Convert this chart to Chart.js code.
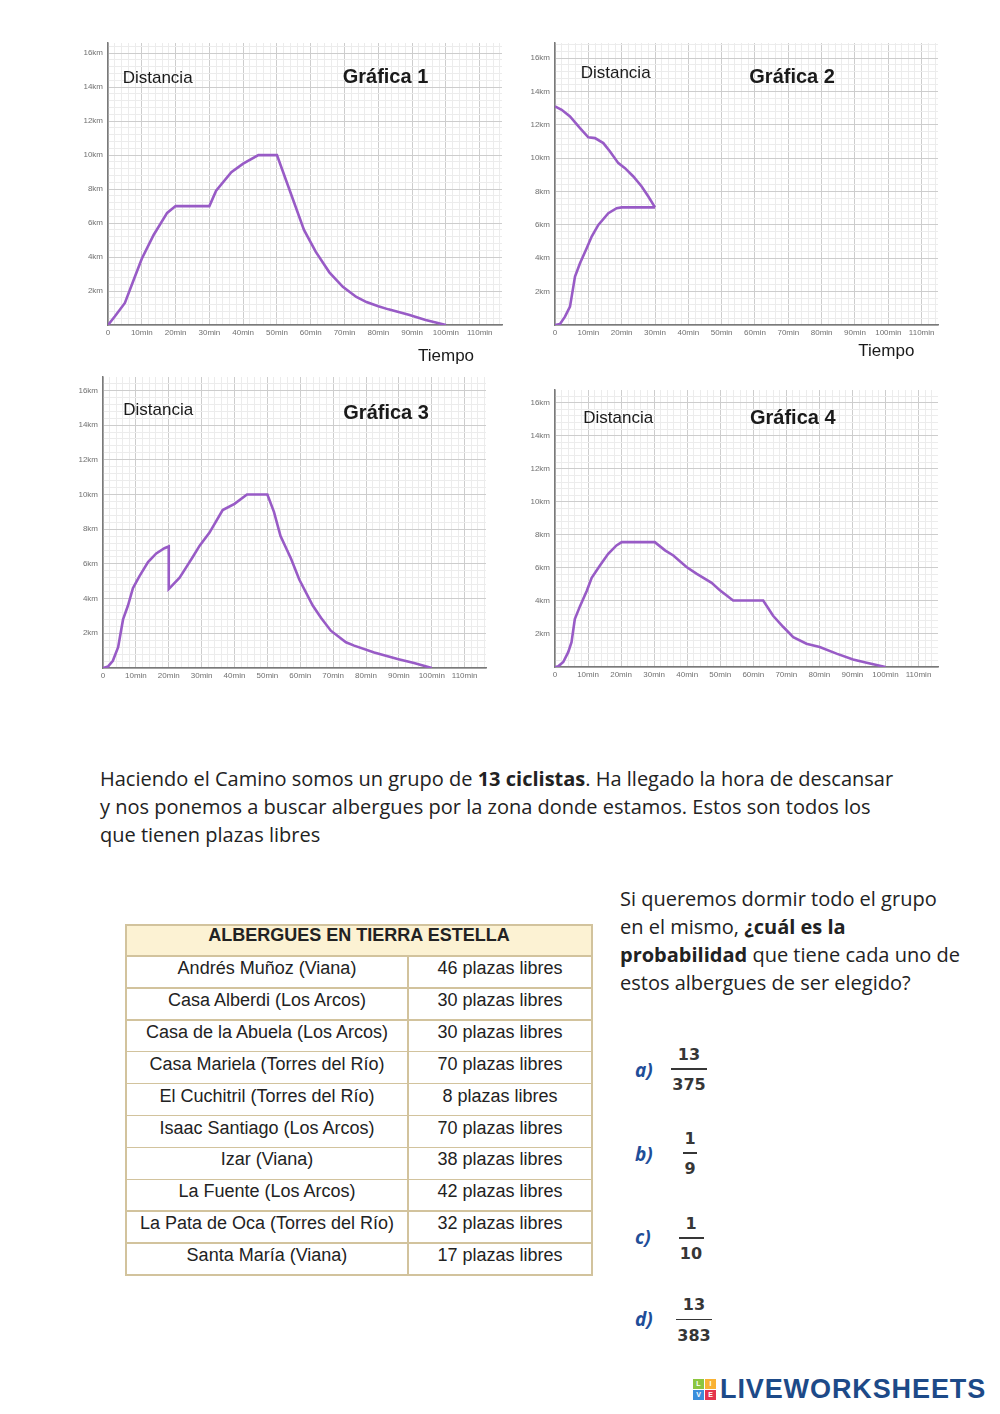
<!DOCTYPE html>
<html><head><meta charset="utf-8">
<script src="https://cdn.jsdelivr.net/npm/chart.js@4.4.1/dist/chart.umd.min.js"></script>
<style>
html,body{margin:0;padding:0;background:#fff;}
#page{position:relative;width:1000px;height:1414px;overflow:hidden;background:#fff;font-family:"Liberation Sans",Arial,sans-serif;}
canvas.g{position:absolute;z-index:1;}
.lbl{position:absolute;white-space:nowrap;color:#1a1a1a;font-family:"Liberation Sans",Arial,sans-serif;z-index:2;}
.dist{font-size:17px;line-height:20px;}
.gtitle{font-size:20px;font-weight:bold;line-height:24px;}
.txt{position:absolute;font-family:"Open Sans",sans-serif;font-size:20px;line-height:28px;color:#222;white-space:nowrap;}
.txt b{font-weight:700;}
.cell{position:absolute;text-align:center;font-family:"Liberation Sans",Arial,sans-serif;font-size:18px;line-height:24px;color:#222;white-space:nowrap;}
.hline{position:absolute;background:#d2c39d;}
.alabel{position:absolute;font-family:"Open Sans",sans-serif;font-style:italic;font-weight:700;font-size:19px;line-height:24px;color:#1f4e99;}
.fnum{position:absolute;font-family:"DejaVu Sans",sans-serif;font-weight:bold;font-size:16px;line-height:16px;color:#363636;transform:translateX(-50%);white-space:nowrap;}
.fbar{position:absolute;height:1.6px;background:#363636;}
.sq{position:absolute;width:11px;height:10px;color:#fff;font:bold 7px/10px "Liberation Sans",Arial,sans-serif;text-align:center;}
</style>
</head>
<body>
<div id="page"></div>
<script>
// ---------- DATA ----------
// Gráfica 1
const g1Minutes = [0, 2, 5, 7.5, 10, 13.5, 17.5, 20, 30, 32, 36.5, 40, 44.5, 50, 54, 58, 61.5, 65.5, 69.5, 73.5, 76.5, 80, 83, 89, 94, 100];
const g1Km      = [0, 0.5, 1.3, 2.6, 3.9, 5.3, 6.6, 7, 7, 7.9, 9, 9.5, 10, 10, 7.8, 5.6, 4.3, 3.1, 2.25, 1.65, 1.35, 1.1, 0.92, 0.6, 0.3, 0];
// Gráfica 2 (two branches)
const g2UpMinutes   = [0, 1.5, 3, 4.5, 5.5, 6, 7.5, 9.5, 11, 13, 16, 18.5, 20, 30];
const g2UpKm        = [0, 0.06, 0.5, 1.1, 2.3, 2.9, 3.7, 4.6, 5.3, 6.0, 6.7, 7.0, 7.05, 7.05];
const g2DownMinutes = [0, 2, 4.5, 7.5, 10, 12, 14.5, 16.5, 19, 21, 23.5, 26, 28, 30];
const g2DownKm      = [13.1, 12.9, 12.5, 11.8, 11.25, 11.2, 10.9, 10.4, 9.7, 9.4, 8.9, 8.3, 7.7, 7.05];
// Gráfica 3
const g3Minutes = [0, 1.5, 3, 4.6, 6.1, 7.6, 9.1, 11.1, 13.7, 16.2, 18.7, 20, 20, 23.3, 25.3, 27.3, 29.4, 32.4, 36.4, 40, 43.8, 50, 52, 54, 57.2, 59.7, 63.8, 66.3, 69.3, 73.9, 76.4, 82.5, 89.6, 94.6, 100];
const g3Km      = [0, 0.08, 0.42, 1.2, 2.8, 3.6, 4.6, 5.3, 6.1, 6.6, 6.9, 7, 4.55, 5.2, 5.8, 6.4, 7.05, 7.8, 9.1, 9.46, 10, 10, 9, 7.6, 6.3, 5.1, 3.6, 2.9, 2.15, 1.48, 1.29, 0.9, 0.52, 0.29, 0];
// Gráfica 4
const g4Minutes = [0, 1, 2.5, 4, 5, 6, 7.6, 9.6, 11.1, 13.6, 16.1, 18.6, 20.2, 30.2, 33.3, 35.8, 39.8, 42.8, 47.4, 49.9, 53.9, 63, 66, 69.1, 72.1, 76.1, 80.1, 85.2, 90.2, 94.3, 100];
const g4Km      = [0, 0.04, 0.3, 0.9, 1.5, 2.9, 3.7, 4.6, 5.4, 6.15, 6.85, 7.36, 7.56, 7.56, 7.06, 6.75, 6.05, 5.65, 5.1, 4.64, 4.03, 4.03, 3.1, 2.42, 1.81, 1.41, 1.21, 0.81, 0.46, 0.26, 0];
// tick label suffixes
const xTickSuffix = 'min';
const yTickSuffix = 'km';
// Table
const tableTitle = 'ALBERGUES EN TIERRA ESTELLA';
const hostelNames = ['Andrés Muñoz (Viana)', 'Casa Alberdi (Los Arcos)', 'Casa de la Abuela (Los Arcos)', 'Casa Mariela (Torres del Río)', 'El Cuchitril (Torres del Río)', 'Isaac Santiago (Los Arcos)', 'Izar (Viana)', 'La Fuente (Los Arcos)', 'La Pata de Oca (Torres del Río)', 'Santa María (Viana)'];
const freePlaces = [46, 30, 30, 70, 8, 70, 38, 42, 32, 17];
// Answers
const answerLabels = ['a)', 'b)', 'c)', 'd)'];
const numerators   = [13, 1, 1, 13];
const denominators = [375, 9, 10, 383];

// ---------- LAYOUT ----------
const page = document.getElementById('page');
const LINE = '#985bc6';
const FONT = '"Liberation Sans", Arial, sans-serif';

function isMult(v, step) { const r = v / step; return Math.abs(r - Math.round(r)) < 1e-6; }

function makeChart(box, yMax, xMax, series) {
  const padL = 50, padT = 12, padR = 12, padB = 22;
  const w = Math.round(box.right - box.left + padL + padR);
  const h = Math.round(box.bottom - box.top + padT + padB);
  const c = document.createElement('canvas');
  c.className = 'g';
  c.width = w; c.height = h;
  c.style.width = w + 'px'; c.style.height = h + 'px';
  c.style.left = (box.left - padL) + 'px'; c.style.top = (box.top - padT) + 'px';
  page.appendChild(c);
  new Chart(c, {
    type: 'line',
    data: {
      datasets: series.map(s => ({
        data: s.t.map((m, i) => ({ x: m, y: s.d[i] })),
        borderColor: LINE, borderWidth: 2.6, pointRadius: 0, tension: 0, fill: false
      }))
    },
    options: {
      responsive: false, animation: false,
      layout: { padding: { left: 0, top: padT, right: padR, bottom: 0 } },
      plugins: { legend: { display: false }, tooltip: { enabled: false } },
      scales: {
        x: {
          type: 'linear', min: 0, max: xMax,
          afterFit: s => { s.height = padB; },
          ticks: {
            stepSize: 2, autoSkip: false, maxRotation: 0, minRotation: 0, includeBounds: false,
            padding: 3, color: '#707070', font: { size: 8, family: FONT },
            callback: v => v === 0 ? '0' : (isMult(v, 10) ? v + xTickSuffix : '')
          },
          grid: { color: ctx => (ctx.tick && isMult(ctx.tick.value, 10)) ? '#cdcdcd' : '#ececec', lineWidth: 1, drawTicks: false },
          border: { color: '#7a7a7a', width: 1.5 }
        },
        y: {
          type: 'linear', min: 0, max: yMax,
          afterFit: s => { s.width = padL; },
          ticks: {
            stepSize: 0.4, autoSkip: false, includeBounds: false,
            padding: 5, color: '#707070', font: { size: 8, family: FONT },
            callback: v => (v > 0 && isMult(v, 2)) ? v + yTickSuffix : ''
          },
          grid: { color: ctx => (ctx.tick && isMult(ctx.tick.value, 2)) ? '#cdcdcd' : '#ececec', lineWidth: 1, drawTicks: false },
          border: { color: '#7a7a7a', width: 1.5 }
        }
      }
    }
  });
}

makeChart({ left: 108, top: 42.8, right: 502, bottom: 325 }, 16.6, 116.6, [{ t: g1Minutes, d: g1Km }]);
makeChart({ left: 555, top: 43.3, right: 938, bottom: 325 }, 16.9, 114.9, [{ t: g2UpMinutes, d: g2UpKm }, { t: g2DownMinutes, d: g2DownKm }]);
makeChart({ left: 103.3, top: 376.7, right: 486.7, bottom: 667.3 }, 16.77, 116.5, [{ t: g3Minutes, d: g3Km }]);
makeChart({ left: 555, top: 389.5, right: 938.3, bottom: 666.7 }, 16.77, 115.9, [{ t: g4Minutes, d: g4Km }]);

function addText(cls, text, left, top, html) {
  const d = document.createElement('div');
  d.className = cls;
  if (html) d.innerHTML = text; else d.textContent = text;
  d.style.left = left + 'px'; d.style.top = top + 'px';
  page.appendChild(d);
  return d;
}
// chart overlays
addText('lbl dist', 'Distancia', 122.7, 68.3);
addText('lbl gtitle', 'Gráfica 1', 342.7, 64);
addText('lbl dist', 'Tiempo', 418, 345.5);
addText('lbl dist', 'Distancia', 580.7, 62.7);
addText('lbl gtitle', 'Gráfica 2', 749.3, 64);
addText('lbl dist', 'Tiempo', 858.3, 340.7);
addText('lbl dist', 'Distancia', 123.3, 400);
addText('lbl gtitle', 'Gráfica 3', 343.3, 400);
addText('lbl dist', 'Distancia', 583.3, 408.3);
addText('lbl gtitle', 'Gráfica 4', 750, 405);

// paragraphs
addText('txt', 'Haciendo el Camino somos un grupo de <b>13 ciclistas</b>. Ha llegado la hora de descansar<br>y nos ponemos a buscar albergues por la zona donde estamos. Estos son todos los<br>que tienen plazas libres', 100, 765, true);
addText('txt', 'Si queremos dormir todo el grupo<br>en el mismo, <b>¿cuál es la</b><br><b>probabilidad</b> que tiene cada uno de<br>estos albergues de ser elegido?', 620, 885, true);

// table
(function () {
  const L = 126, R = 592, S = 408, T = 925, HB = 956, RH = 31.9;
  const B = HB + RH * hostelNames.length;
  const hdr = document.createElement('div');
  hdr.style.cssText = `position:absolute;left:${L}px;top:${T}px;width:${R - L}px;height:${HB - T}px;background:#fcf2d3;`;
  page.appendChild(hdr);
  const line = (x, y, w, h) => { const d = document.createElement('div'); d.className = 'hline'; d.style.cssText += `left:${x}px;top:${y}px;width:${w}px;height:${h}px;`; page.appendChild(d); };
  line(L - 1, T - 1, R - L + 2, 2);
  line(L - 1, B - 1, R - L + 2, 2);
  line(L - 1, T - 1, 2, B - T + 2);
  line(R - 1, T - 1, 2, B - T + 2);
  line(S - 0.75, HB, 1.5, B - HB);
  for (let i = 0; i < hostelNames.length; i++) line(L, HB + i * RH - 0.75, R - L, 1.5);
  const h = addText('cell', tableTitle, L, T - 1);
  h.style.width = (R - L) + 'px'; h.style.fontWeight = 'bold'; h.style.lineHeight = '22px';
  hostelNames.forEach((n, i) => {
    const top = HB + i * RH;
    const a = addText('cell', n, L, top); a.style.width = (S - L) + 'px';
    const b = addText('cell', freePlaces[i] + ' plazas libres', S, top); b.style.width = (R - S) + 'px';
  });
})();

// answers
(function () {
  const labelY = [1072, 1156, 1239, 1321];
  const barY = [1069, 1153, 1238, 1319.3];
  const cx = [689, 690, 691, 694];
  answerLabels.forEach((lab, i) => {
    addText('alabel', lab, 635, labelY[i] - 14);
    const n = addText('fnum', String(numerators[i]), cx[i], barY[i] - 14.3 - 7.7);
    const d = addText('fnum', String(denominators[i]), cx[i], barY[i] + 16 - 7.7);
    const w = Math.max(n.offsetWidth, d.offsetWidth) + 3;
    const bar = document.createElement('div');
    bar.className = 'fbar';
    bar.style.left = (cx[i] - w / 2) + 'px'; bar.style.top = (barY[i] - 0.8) + 'px'; bar.style.width = w + 'px';
    page.appendChild(bar);
  });
})();

// logo
(function () {
  const sq = [['L', '#8cc63f', 693, 1379], ['I', '#f9b233', 705, 1379], ['V', '#3b8edb', 693, 1390], ['E', '#e4344d', 705, 1390]];
  sq.forEach(s => { const d = addText('sq', s[0], s[2], s[3]); d.style.background = s[1]; });
  const t = addText('lbl', 'LIVEWORKSHEETS', 720, 1373);
  t.style.cssText += 'font-size:27px;font-weight:bold;line-height:32px;color:#1d4a88;letter-spacing:0.9px;';
})();
</script>
</body></html>
